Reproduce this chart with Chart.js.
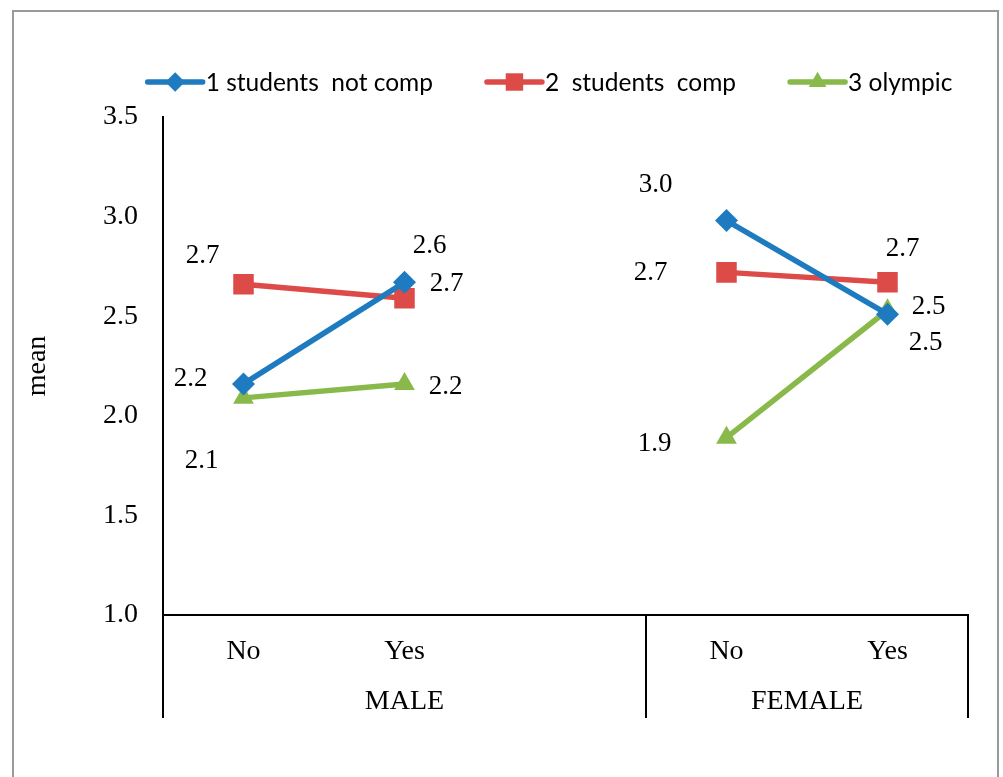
<!DOCTYPE html>
<html>
<head>
<meta charset="utf-8">
<script src="https://cdn.jsdelivr.net/npm/chart.js@4/dist/chart.umd.min.js"></script>
<style>
  html, body { margin: 0; padding: 0; background: #fff; overflow: hidden; }
  canvas { display: block; }
</style>
</head>
<body>
<canvas id="chart" width="1003" height="777"></canvas>
<script>
// Categories along the x axis; the empty slot separates the two groups
const categories = ['No', 'Yes', '', 'No', 'Yes'];
const groups = ['MALE', 'FEMALE'];
const groupSizes = [3, 2];

const seriesNames = ['1 students  not comp', '2  students  comp', '3 olympic'];
const notComp = [2.16, 2.67, null, 2.98, 2.51];
const comp    = [2.66, 2.59, null, 2.72, 2.67];
const olympic = [2.09, 2.16, null, 1.89, 2.53];

const yTicks = [1.0, 1.5, 2.0, 2.5, 3.0, 3.5];

// Where each value label sits relative to its point (px)
const labelOffsets = [
  [[-53, -6], [42, 1], null, [-71, -37], [38, 28]],
  [[-41, -29], [25, -53], null, [-76, 0], [15, -34]],
  [[-42, 62], [41, 2], null, [-72, 5], [41, -4]]
];

const SERIF = "'Liberation Serif', 'Times New Roman', serif";
const SANS = "Lato, 'Liberation Sans', sans-serif";

// White page with a thin grey frame
const framePlugin = {
  id: 'frame',
  beforeDraw(chart) {
    const ctx = chart.ctx;
    ctx.save();
    ctx.fillStyle = '#ffffff';
    ctx.fillRect(0, 0, chart.width, chart.height);
    ctx.strokeStyle = '#9a9a9a';
    ctx.lineWidth = 2;
    ctx.strokeRect(13, 11, 985, 800);
    ctx.restore();
  }
};

// Numeric label next to each marker
const valueLabelPlugin = {
  id: 'valueLabels',
  afterDatasetsDraw(chart) {
    const ctx = chart.ctx;
    ctx.save();
    ctx.font = '27px ' + SERIF;
    ctx.fillStyle = '#000';
    ctx.textAlign = 'center';
    ctx.textBaseline = 'middle';
    chart.data.datasets.forEach((ds, i) => {
      const meta = chart.getDatasetMeta(i);
      meta.data.forEach((pt, j) => {
        const v = ds.data[j];
        const off = labelOffsets[i][j];
        if (v == null || !off) return;
        ctx.fillText(v.toFixed(1), pt.x + off[0], pt.y + off[1] + 1);
      });
    });
    ctx.restore();
  }
};

// Group dividers under the x axis and the group names
const groupAxisPlugin = {
  id: 'groupAxis',
  afterDraw(chart) {
    const ctx = chart.ctx;
    const xs = chart.scales.x;
    const area = chart.chartArea;
    const bounds = [area.left];
    let idx = 0;
    groupSizes.forEach(n => {
      idx += n;
      if (idx < categories.length) {
        bounds.push((xs.getPixelForValue(idx - 1) + xs.getPixelForValue(idx)) / 2);
      } else {
        bounds.push(area.right);
      }
    });
    ctx.save();
    ctx.strokeStyle = '#000';
    ctx.lineWidth = 2;
    bounds.forEach(b => {
      ctx.beginPath();
      ctx.moveTo(b, area.bottom);
      ctx.lineTo(b, 718);
      ctx.stroke();
    });
    ctx.font = '28px ' + SERIF;
    ctx.fillStyle = '#000';
    ctx.textAlign = 'center';
    ctx.textBaseline = 'middle';
    groups.forEach((g, k) => {
      ctx.fillText(g, (bounds[k] + bounds[k + 1]) / 2, 702);
    });
    ctx.restore();
  }
};

// Legend row: line with marker, then series name
const topLegendPlugin = {
  id: 'topLegend',
  afterDraw(chart) {
    const ctx = chart.ctx;
    ctx.save();
    ctx.font = '24.5px ' + SANS;
    const lineLen = 55, textGap = 3, itemGap = 54, y = 82;
    const items = chart.data.datasets.map(ds => ({ ds, w: ctx.measureText(ds.label).width }));
    const total = items.reduce((a, it) => a + lineLen + textGap + it.w, 0) + itemGap * (items.length - 1);
    let x = 550 - total / 2;
    items.forEach(it => {
      const ds = it.ds;
      ctx.strokeStyle = ds.borderColor;
      ctx.lineWidth = 5.5;
      ctx.lineCap = 'round';
      ctx.beginPath();
      ctx.moveTo(x, y);
      ctx.lineTo(x + lineLen, y);
      ctx.stroke();
      ctx.fillStyle = ds.pointBackgroundColor;
      Chart.helpers.drawPoint(ctx, {
        pointStyle: ds.pointStyle,
        radius: ds.pointRadius * 0.85,
        borderWidth: 0,
        rotation: 0
      }, x + lineLen / 2, y);
      ctx.fillStyle = '#000';
      ctx.textAlign = 'left';
      ctx.textBaseline = 'middle';
      ctx.fillText(ds.label, x + lineLen + textGap, y + 1);
      x += lineLen + textGap + it.w + itemGap;
    });
    ctx.restore();
  }
};

function series(label, data, color, style, radius) {
  return {
    label, data,
    borderColor: color,
    backgroundColor: color,
    pointBackgroundColor: color,
    pointBorderColor: color,
    pointBorderWidth: 0,
    pointStyle: style,
    pointRadius: radius,
    borderWidth: 5.5,
    tension: 0,
    spanGaps: false
  };
}

new Chart(document.getElementById('chart'), {
  type: 'line',
  data: {
    labels: categories,
    datasets: [
      series(seriesNames[0], notComp, '#1f7bbf', 'rectRot', 11.5),
      series(seriesNames[1], comp, '#dd4b48', 'rect', 14.5),
      series(seriesNames[2], olympic, '#88b94a', 'triangle', 12)
    ]
  },
  options: {
    responsive: false,
    devicePixelRatio: 1,
    animation: false,
    layout: { padding: { top: 117, right: 35, left: 0, bottom: 0 } },
    plugins: {
      legend: { display: false },
      tooltip: { enabled: false }
    },
    scales: {
      x: {
        type: 'category',
        offset: true,
        grid: { display: false, drawTicks: false },
        border: { display: true, color: '#000', width: 2 },
        ticks: {
          color: '#000',
          font: { family: SERIF, size: 28 },
          padding: 20,
          maxRotation: 0,
          autoSkip: false
        },
        afterFit(s) { s.height = 162; }
      },
      y: {
        min: 1,
        max: 3.5,
        grid: { display: false, drawTicks: false },
        border: { display: true, color: '#000', width: 2 },
        afterBuildTicks(s) { s.ticks = yTicks.map(v => ({ value: v })); },
        ticks: {
          color: '#000',
          font: { family: SERIF, size: 28 },
          padding: 25,
          callback: v => Number(v).toFixed(1)
        },
        title: {
          display: true,
          text: 'mean',
          color: '#000',
          font: { family: SERIF, size: 28 },
          padding: { top: 21, bottom: 0 }
        },
        afterFit(s) { s.width = 163; }
      }
    }
  },
  plugins: [framePlugin, valueLabelPlugin, groupAxisPlugin, topLegendPlugin]
});
</script>
</body>
</html>
